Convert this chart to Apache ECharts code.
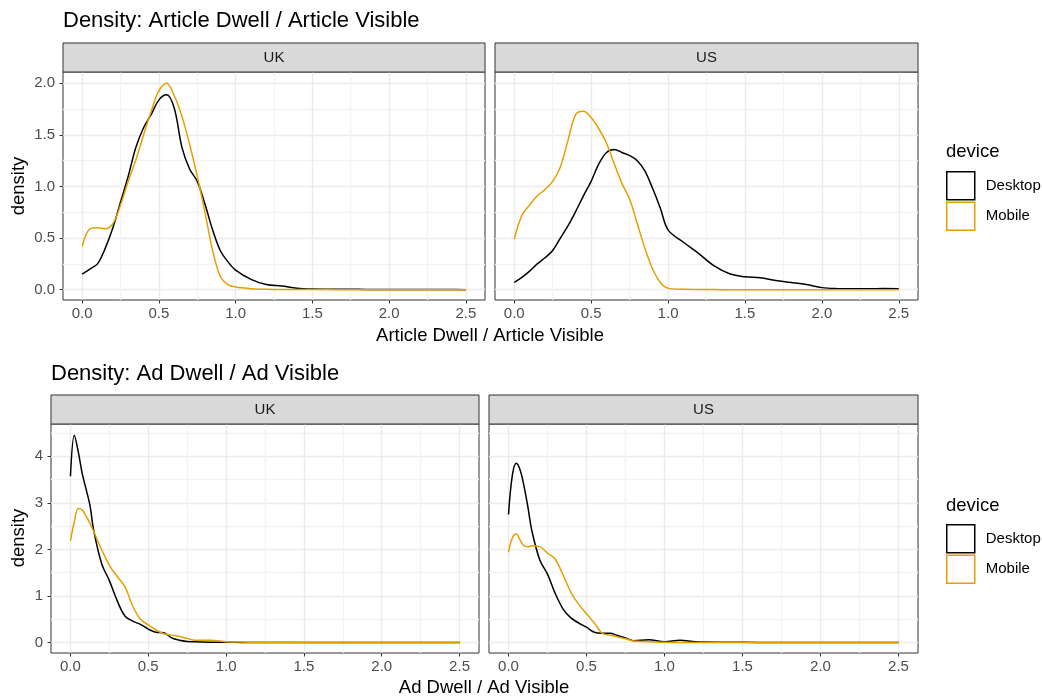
<!DOCTYPE html>
<html>
<head>
<meta charset="utf-8">
<script src="https://cdn.jsdelivr.net/npm/echarts@6/dist/echarts.min.js"></script>
<style>
html, body {margin: 0; padding: 0; background: #fff;}
#chart {width: 1042px; height: 698px;}
</style>
</head>
<body>
<div id="chart"></div>
<script>
// x positions where the density curves were read
const xsArticle = [0, 0.05, 0.1, 0.15, 0.2, 0.25, 0.3, 0.35, 0.4, 0.45, 0.5, 0.55, 0.6, 0.65, 0.7, 0.75, 0.8, 0.85, 0.9, 0.95, 1.0,
    1.1, 1.2, 1.3, 1.4, 1.5, 1.6, 1.7, 1.8, 1.9, 2.0, 2.1, 2.2, 2.3, 2.4, 2.5];
const xsAd = [0, 0.025, 0.05, 0.075, 0.1, 0.125, 0.15, 0.2, 0.25, 0.3, 0.35, 0.4, 0.45, 0.5, 0.55, 0.6, 0.65, 0.7, 0.75, 0.8,
    0.9, 1.0, 1.1, 1.2, 1.4, 1.6, 1.8, 2.0, 2.25, 2.5];

// Article Dwell / Article Visible
const articleUkDesktop = [0.15, 0.2, 0.25, 0.4, 0.6, 0.85, 1.1, 1.38, 1.57, 1.70, 1.84, 1.89, 1.76, 1.38, 1.17, 1.05, 0.83, 0.58, 0.38, 0.27, 0.19,
    0.10, 0.05, 0.035, 0.015, 0.007, 0.005, 0.004, 0.003, 0.002, 0.002, 0.001, 0.001, 0.001, 0.001, 0];
const articleUkMobile = [0.42, 0.59, 0.60, 0.59, 0.64, 0.82, 1.05, 1.26, 1.5, 1.73, 1.93, 2.0, 1.88, 1.68, 1.41, 1.1, 0.75, 0.38, 0.13, 0.05, 0.025,
    0.01, 0.004, 0.002, 0.002, 0.001, 0.001, 0, 0, 0, 0, 0, 0, 0, 0, 0];
const articleUsDesktop = [0.07, 0.12, 0.18, 0.25, 0.31, 0.38, 0.50, 0.62, 0.76, 0.91, 1.05, 1.22, 1.33, 1.36, 1.33, 1.30, 1.25, 1.15, 0.98, 0.79, 0.58,
    0.46, 0.35, 0.23, 0.155, 0.125, 0.115, 0.088, 0.07, 0.05, 0.02, 0.01, 0.008, 0.008, 0.012, 0.01];
const articleUsMobile = [0.49, 0.72, 0.82, 0.91, 0.97, 1.05, 1.19, 1.45, 1.70, 1.73, 1.67, 1.56, 1.42, 1.22, 1.03, 0.88, 0.64, 0.40, 0.20, 0.07, 0.015,
    0.004, 0.002, 0.001, 0, 0, 0, 0, 0, 0, 0, 0, 0, 0, 0, 0];

// Ad Dwell / Ad Visible
const adUkDesktop = [3.57, 4.45, 4.1, 3.64, 3.3, 2.95, 2.4, 1.7, 1.33, 0.9, 0.57, 0.46, 0.39, 0.29, 0.22, 0.21, 0.1, 0.05, 0.025, 0.015,
    0.008, 0.005, 0.004, 0.003, 0.002, 0.001, 0.001, 0.001, 0, 0];
const adUkMobile = [2.19, 2.6, 2.88, 2.85, 2.72, 2.56, 2.38, 2.0, 1.66, 1.42, 1.2, 0.78, 0.5, 0.38, 0.27, 0.19, 0.16, 0.13, 0.09, 0.05,
    0.05, 0.02, 0.012, 0.008, 0.005, 0.003, 0.002, 0.001, 0.001, 0];
const adUsDesktop = [2.75, 3.6, 3.85, 3.7, 3.35, 2.9, 2.4, 1.78, 1.47, 1.05, 0.72, 0.53, 0.42, 0.33, 0.22, 0.2, 0.2, 0.15, 0.1, 0.04,
    0.06, 0.02, 0.05, 0.015, 0.006, 0.004, 0.003, 0.002, 0.001, 0];
const adUsMobile = [1.94, 2.25, 2.33, 2.2, 2.08, 2.06, 2.08, 2.06, 1.92, 1.79, 1.45, 1.08, 0.82, 0.62, 0.42, 0.2, 0.16, 0.12, 0.08, 0.035,
    0.02, 0.005, 0.003, 0.002, 0.001, 0.001, 0, 0, 0, 0];

// breaks
const xMajor = [0, 0.5, 1, 1.5, 2, 2.5];
const xMinor = [0.25, 0.75, 1.25, 1.75, 2.25];
const yMajorArticle = [0, 0.5, 1, 1.5, 2];
const yMinorArticle = [0.25, 0.75, 1.25, 1.75];
const yMajorAd = [0, 1, 2, 3, 4];
const yMinorAd = [0.5, 1.5, 2.5, 3.5, 4.5];

const devices = ['Desktop', 'Mobile'];
const deviceColors = ['#000000', '#E69F00'];

const FONT = '"Liberation Sans", Arial, sans-serif';
const GRID_MAJOR = '#ebebeb';
const GRID_MINOR = '#f3f3f3';
const SMALL = 15, MEDIUM = 18.5, LARGE = 22;

const merge = (a, b) => a.concat(b).sort((p, q) => p - q);

const panels = [
    {strip: 'UK', left: 63, top: 72, width: 422, height: 228, xs: xsArticle, lines: [articleUkDesktop, articleUkMobile],
        yRange: [-0.1, 2.11], yMajor: yMajorArticle, yMinor: yMinorArticle, digits: 1, yLabels: true},
    {strip: 'US', left: 495, top: 72, width: 423, height: 228, xs: xsArticle, lines: [articleUsDesktop, articleUsMobile],
        yRange: [-0.1, 2.11], yMajor: yMajorArticle, yMinor: yMinorArticle, digits: 1, yLabels: false},
    {strip: 'UK', left: 51, top: 424, width: 428, height: 229, xs: xsAd, lines: [adUkDesktop, adUkMobile],
        yRange: [-0.224, 4.694], yMajor: yMajorAd, yMinor: yMinorAd, digits: 0, yLabels: true},
    {strip: 'US', left: 489, top: 424, width: 429, height: 229, xs: xsAd, lines: [adUsDesktop, adUsMobile],
        yRange: [-0.224, 4.694], yMajor: yMajorAd, yMinor: yMinorAd, digits: 0, yLabels: false}
];

const grid = [], xAxis = [], yAxis = [], series = [], graphic = [];

panels.forEach((p, i) => {
    grid.push({left: p.left, top: p.top, width: p.width, height: p.height, show: true,
        backgroundColor: '#fff', borderColor: '#333333', borderWidth: 1});

    // main axes: gridlines + labels
    xAxis.push({type: 'value', gridIndex: i, min: -0.125, max: 2.625, position: 'bottom',
        axisLine: {show: false, onZero: false},
        axisTick: {show: false, customValues: merge(xMajor, xMinor)},
        axisLabel: {customValues: xMajor, formatter: v => v.toFixed(1), color: '#4d4d4d', fontSize: SMALL, fontFamily: FONT, margin: 6},
        splitLine: {show: true, lineStyle: {color: [GRID_MAJOR, GRID_MINOR], width: 1.4}}});
    // tick-mark axes
    xAxis.push({type: 'value', gridIndex: i, min: -0.125, max: 2.625, position: 'bottom',
        axisLine: {show: false, onZero: false}, axisLabel: {show: false}, splitLine: {show: false},
        axisTick: {show: true, customValues: xMajor, length: 3.5, lineStyle: {color: '#333333', width: 1}}});

    yAxis.push({type: 'value', gridIndex: i, min: p.yRange[0], max: p.yRange[1], position: 'left',
        axisLine: {show: false, onZero: false},
        axisTick: {show: false, customValues: merge(p.yMajor, p.yMinor)},
        axisLabel: {show: p.yLabels, customValues: p.yMajor, formatter: v => v.toFixed(p.digits), color: '#4d4d4d', fontSize: SMALL, fontFamily: FONT, margin: 8},
        splitLine: {show: true, lineStyle: {color: [GRID_MAJOR, GRID_MINOR], width: 1.4}}});
    yAxis.push({type: 'value', gridIndex: i, min: p.yRange[0], max: p.yRange[1], position: 'left',
        axisLine: {show: false, onZero: false}, axisLabel: {show: false}, splitLine: {show: false},
        axisTick: {show: p.yLabels, customValues: p.yMajor, length: 3.5, lineStyle: {color: '#333333', width: 1}}});

    p.lines.forEach((ys, k) => {
        series.push({
            name: devices[k], type: 'line', xAxisIndex: 2 * i, yAxisIndex: 2 * i,
            data: p.xs.map((x, j) => [x, ys[j]]),
            showSymbol: false, smooth: 0.35, z: 3 + k,
            lineStyle: {color: deviceColors[k], width: 1.5},
            itemStyle: {color: deviceColors[k]}
        });
    });

    // facet strip
    graphic.push({type: 'rect', shape: {x: p.left, y: p.top - 29, width: p.width, height: 29},
        style: {fill: '#d9d9d9', stroke: '#333333', lineWidth: 1}, z: 10});
    graphic.push({type: 'text', x: p.left + p.width / 2, y: p.top - 14.5, z: 11,
        style: {text: p.strip, fill: '#1a1a1a', fontSize: SMALL, fontFamily: FONT, align: 'center', verticalAlign: 'middle'}});
});

const textEl = (text, x, y, size, opts = {}) => Object.assign({
    type: 'text', x, y, z: 11,
    style: {text, fill: '#000', fontSize: size, fontFamily: FONT, align: opts.align || 'left', verticalAlign: 'middle'}
}, opts.rotation ? {rotation: opts.rotation} : {});

graphic.push(
    textEl('Density: Article Dwell / Article Visible', 63, 20.5, LARGE),
    textEl('Density: Ad Dwell / Ad Visible', 51, 374, LARGE),
    textEl('Article Dwell / Article Visible', 490, 335.5, MEDIUM, {align: 'center'}),
    textEl('Ad Dwell / Ad Visible', 484, 688, MEDIUM, {align: 'center'}),
    textEl('density', 19, 186, MEDIUM, {align: 'center', rotation: Math.PI / 2}),
    textEl('density', 19, 538, MEDIUM, {align: 'center', rotation: Math.PI / 2}),
    textEl('device', 946, 152, MEDIUM),
    textEl('device', 946, 506, MEDIUM)
);

const legendData = devices.map((d, k) => ({
    name: d, icon: 'rect',
    itemStyle: {color: '#ffffff', borderColor: deviceColors[k], borderWidth: 1.5}
}));
const legendBase = {orient: 'vertical', left: 946, padding: 0, itemWidth: 28, itemHeight: 28, itemGap: 1,
    selectedMode: false, data: legendData,
    textStyle: {fontSize: SMALL, color: '#000', fontFamily: FONT, padding: [0, 0, 0, 6]}};

const chart = echarts.init(document.getElementById('chart'), null, {renderer: 'canvas'});
chart.setOption({
    backgroundColor: '#ffffff',
    animation: false,
    textStyle: {fontFamily: FONT},
    grid,
    xAxis,
    yAxis,
    series,
    legend: [
        Object.assign({}, legendBase, {top: 171}),
        Object.assign({}, legendBase, {top: 524})
    ],
    graphic
});
</script>
</body>
</html>
